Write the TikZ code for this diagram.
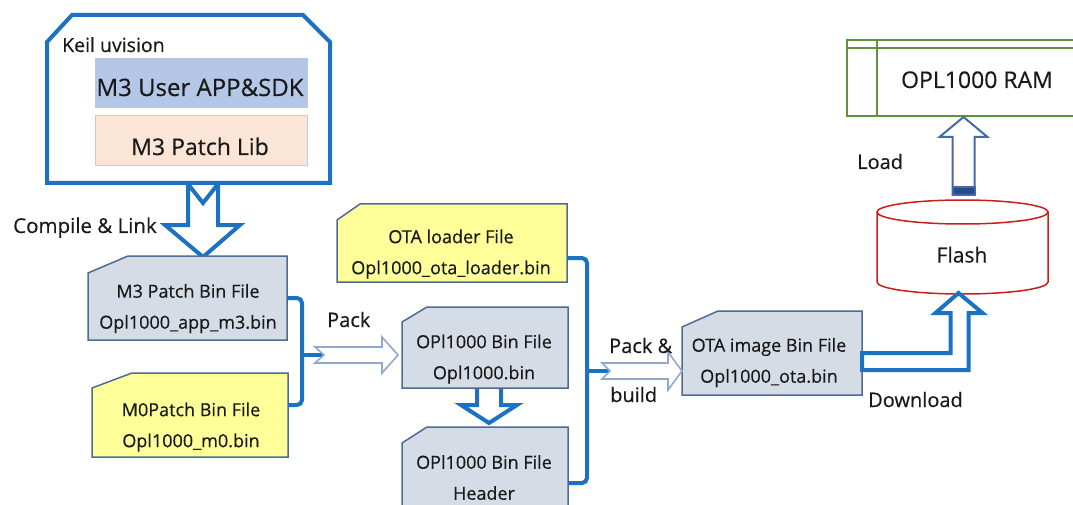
\documentclass[tikz,border=0pt]{standalone}
\usepackage{fontspec}
\setmainfont[FakeBold=0.4]{Open Sans}
\usetikzlibrary{calc}
\definecolor{kblue}{RGB}{28,114,194}
\definecolor{cgray}{RGB}{214,220,229}
\definecolor{cyellow}{RGB}{255,255,153}
\definecolor{cardedge}{RGB}{80,106,150}
\definecolor{appfill}{RGB}{180,199,231}
\definecolor{libfill}{RGB}{251,229,214}
\definecolor{libedge}{RGB}{189,207,232}
\definecolor{parrow}{RGB}{143,170,205}
\definecolor{lblue}{RGB}{68,104,170}
\definecolor{lfill}{RGB}{40,75,140}
\definecolor{fred}{RGB}{200,30,30}
\definecolor{rgreen}{RGB}{96,145,60}
\definecolor{tcol}{RGB}{25,25,25}
\newcommand\fsz[1]{\fontsize{#1}{31}\selectfont}
\newcommand\cardshape[4]{\filldraw[cardline,fill=#2] (#1.south west) -- ($(#1.north west)+(0,#4)$) -- ($(#1.north west)+(#3,0)$) -- (#1.north east) -- (#1.south east) -- cycle;}
\begin{document}
\begin{tikzpicture}[x=1pt,y=-1pt,
  hole/.style={draw=none,inner sep=0pt,outer sep=0pt},
  cardline/.style={draw=cardedge,line width=1.5pt,line join=miter},
  bracket/.style={draw=kblue,line width=4pt,rounded corners=5pt},
  blockarrow/.style={draw=kblue,line width=4pt,fill=white,line join=miter},
  packarrow/.style={draw=parrow,line width=1.6pt,fill=white},
  lbl/.style={inner sep=0pt,text=tcol},
  cardtxt/.style={inner sep=0pt,align=center,text=tcol,font=\fsz{18}}]
\useasboundingbox (0,0) rectangle (1073,505);
% ---------- frame nodes ----------
\node[hole,minimum width=283pt,minimum height=168pt] (keil) at (188.5,99) {};
\node[hole,minimum width=199pt,minimum height=84pt] (m3) at (187.5,298) {};
\node[hole,minimum width=196pt,minimum height=84pt] (m0) at (190,415) {};
\node[hole,minimum width=230pt,minimum height=78pt] (ol) at (452,243) {};
\node[hole,minimum width=166pt,minimum height=81pt] (ob) at (485,347.5) {};
\node[hole,minimum width=166pt,minimum height=103pt] (hd) at (485,478.5) {};
\node[hole,minimum width=180pt,minimum height=84pt] (oi) at (772,353) {};
\node[hole,minimum width=171pt,minimum height=94pt] (flash) at (962.5,247) {};
\node[hole,minimum width=233pt,minimum height=76pt] (ram) at (963.5,78) {};
% ---------- compile arrow + Keil box ----------
\coordinate (ct) at ($(m3.north)+(15.5,1)$);
\begin{scope}[shift={(ct)}]
\filldraw[blockarrow] (-15,-73) -- (0,-54) -- (15,-73) -- (15,-32) -- (37,-32) -- (0,0) -- (-38,-32) -- (-15,-32) -- cycle;
\end{scope}
\filldraw[draw=kblue,line width=4pt,fill=white,line join=miter] (keil.south west) -- ($(keil.north west)+(0,27)$) -- ($(keil.north west)+(25,0)$) -- ($(keil.north east)+(-27,0)$) -- ($(keil.north east)+(0,27)$) -- (keil.south east) -- cycle;
\node[draw=appfill,fill=appfill,line width=1pt,minimum width=212pt,minimum height=49pt,inner sep=0pt] (app) at (201,83.5) {};
\node[draw=libedge,fill=libfill,line width=1pt,minimum width=212pt,minimum height=50pt,inner sep=0pt] (lib) at (201,141) {};
% ---------- bin -> header arrow, cards ----------
\coordinate (ht) at ($(hd.north)+(4,-4)$);
\begin{scope}[shift={(ht)}]
\filldraw[blockarrow] (-12,-37) -- (12,-37) -- (12,-18) -- (28,-18) -- (0,0) -- (-28,-18) -- (-12,-18) -- cycle;
\end{scope}
\cardshape{m3}{cgray}{40}{17}
\cardshape{m0}{cyellow}{40}{15}
\cardshape{ol}{cyellow}{23}{16}
\cardshape{ob}{cgray}{25}{15}
\cardshape{hd}{cgray}{25}{16}
\cardshape{oi}{cgray}{36}{16}
% ---------- brackets and pack arrows ----------
\coordinate (b1) at ($(m3.east)+(15,57)$);
\draw[bracket] (m3.east) -| (b1) |- ($(m0.east)+(0,-10)$);
\coordinate (pt) at ($(ob.west)+(-4,7.5)$);
\draw[kblue,line width=4pt] (b1) -- ($(pt)+(-74,0)$);
\begin{scope}[shift={(pt)}]
\filldraw[packarrow] (0,0) -- (-16,-18) -- (-16,-8) -- (-83,-8) -- (-74,0) -- (-83,8) -- (-16,8) -- (-16,18) -- cycle;
\end{scope}
\coordinate (b2) at ($(ol.east)+(20,128)$);
\draw[bracket] ($(ol.east)+(0,15)$) -| (b2) |- ($(hd.east)+(0,4.5)$);
\coordinate (pbt) at ($(oi.west)+(0,18)$);
\draw[kblue,line width=4pt] (b2) -- ($(pbt)+(-72,0)$);
\begin{scope}[shift={(pbt)}]
\filldraw[packarrow] (0,0) -- (-14,-19) -- (-14,-8) -- (-80,-8) -- (-72,0) -- (-80,8) -- (-14,8) -- (-14,19) -- cycle;
\end{scope}
% ---------- flash ----------
\filldraw[fill=white,draw=fred,line width=1.5pt] ($(flash.north west)+(0,12)$) -- ($(flash.south west)+(0,-12)$) arc[start angle=180,end angle=360,x radius=85.5pt,y radius=12pt] -- ($(flash.north east)+(0,12)$);
\draw[fred,line width=1.5pt] ($(flash.north)+(0,12)$) ellipse[x radius=85.5pt,y radius=12pt];
% ---------- download arrow ----------
\coordinate (dt) at ($(flash.south)+(-4,-1)$);
\filldraw[blockarrow] ($(oi.east)+(0,17)$) -| ($(dt)+(10,20)$) -- ($(dt)+(24,20)$) -- (dt) -- ($(dt)+(-23,20)$) -- ($(dt)+(-8,20)$) |- (oi.east) -- cycle;
% ---------- RAM + load ----------
\draw[rgreen,line width=1.5pt] (ram.south east) -- (ram.south west) -- (ram.north west) -- (ram.north east);
\draw[rgreen,line width=1.5pt] ($(ram.north west)+(0,8)$) -- ($(ram.north east)+(0,8)$);
\draw[rgreen,line width=1.5pt] ($(ram.north west)+(30,0)$) -- ($(ram.south west)+(30,0)$);
\coordinate (lt) at ($(ram.south)+(0,1)$);
\begin{scope}[shift={(lt)}]
\filldraw[draw=lblue,line width=2pt,fill=white,line join=miter] (0,0) -- (24,20) -- (11,20) -- (11,78) -- (-11,78) -- (-11,20) -- (-24,20) -- cycle;
\filldraw[draw=lblue,fill=lfill,line width=2pt] (-11,70) rectangle (11,78);
\end{scope}
% ---------- texts ----------
\node[lbl,anchor=base west,font=\fsz{19.5}] (tkeil) at (62,52) {Keil uvision};
\node[lbl,anchor=base,font=\fsz{24}] (tapp) at (200,96) {M3 User APP\&SDK};
\node[lbl,anchor=base,font=\fsz{23}] (tlib) at (200,155) {M3 Patch Lib};
\node[lbl,anchor=base west,font=\fsz{20.5}] (tcomp) at (13,233) {Compile \& Link};
\node[cardtxt] (tm3) at (188,308.5) {M3 Patch Bin File\\Opl1000\_app\_m3.bin};
\node[cardtxt] (tm0) at (191,427) {M0Patch Bin File\\Opl1000\_m0.bin};
\node[cardtxt] (tol) at (451,254) {OTA loader File\\Opl1000\_ota\_loader.bin};
\node[cardtxt] (tob) at (484,359) {OPl1000 Bin File\\Opl1000.bin};
\node[cardtxt] (thd) at (484,477.5) {OPl1000 Bin File\\Header};
\node[cardtxt] (toi) at (769,362.5) {OTA image Bin File\\Opl1000\_ota.bin};
\node[lbl,anchor=base west,font=\fsz{20}] (tpack) at (327,327) {Pack};
\node[lbl,anchor=base west,font=\fsz{20}] (tpack2) at (609,353) {Pack \&};
\node[lbl,anchor=base west,font=\fsz{20}] (tbuild) at (610,402) {build};
\node[lbl,anchor=base west,font=\fsz{20}] (tdown) at (868,407) {Download};
\node[lbl,anchor=base west,font=\fsz{20}] (tload) at (857,169) {Load};
\node[lbl,anchor=base,font=\fsz{21}] (tflash) at (962,262.5) {Flash};
\node[lbl,anchor=base,font=\fsz{23}] (tram) at (977,88) {OPL1000 RAM};
\end{tikzpicture}
\end{document}
